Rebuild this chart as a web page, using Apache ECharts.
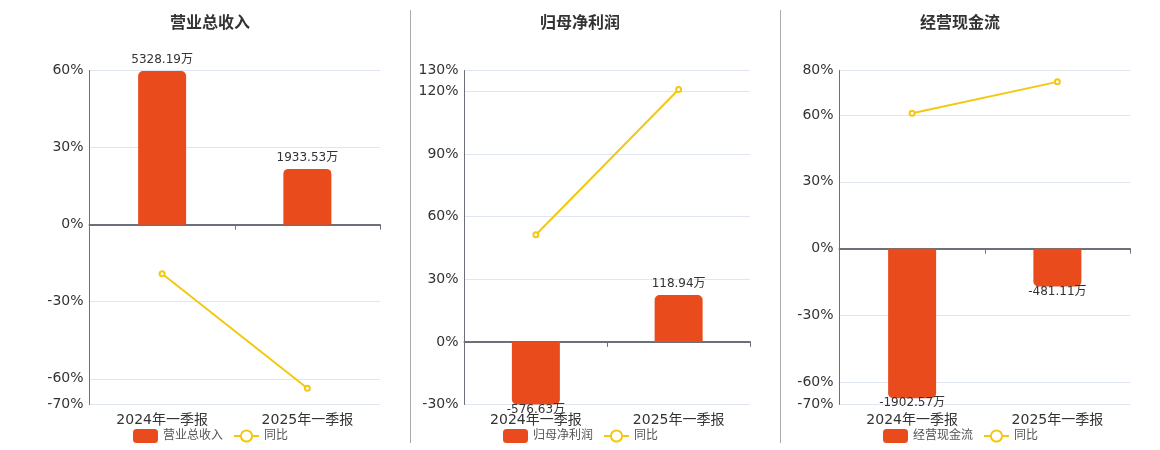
<!DOCTYPE html>
<html>
<head>
<meta charset="utf-8">
<script type="text/javascript" src="https://cdn.jsdelivr.net/npm/echarts@6/dist/echarts.min.js"></script>
<style>
  html, body { margin: 0; padding: 0; background: #fff; }
  #container { width: 1160px; height: 450px; }
</style>
</head>
<body>
<div id="container"></div>
<script type="text/javascript">
// data
var categories = ['2024年一季报', '2025年一季报'];
var titles = ['营业总收入', '归母净利润', '经营现金流'];

var revenue = [5328.19, 1933.53];
var revenueYoy = [-19.1, -63.7];
var profit = [-576.63, 118.94];
var profitYoy = [51.3, 120.9];
var cashflow = [-1902.57, -481.11];
var cashflowYoy = [60.8, 74.9];

// percent axis range per chart
var pctRange = [[-70, 60], [-30, 130], [-70, 80]];
// bar amount (万) per 1% on the hidden bar axis
var barPerPct = [89.1, 5.29, 28.3];

var barValues = [revenue, profit, cashflow];
var yoyValues = [revenueYoy, profitYoy, cashflowYoy];

var FONT = "'DejaVu Sans', 'Noto Sans CJK SC', sans-serif";
var BAR_COLOR = '#E94B1D';
var LINE_COLOR = '#F2C811';
var AXIS_COLOR = '#6E7079';

// layout of the three panels
var panels = [
    { left: 89.5, right: 780, center: 210, legendLeft: 128 },
    { left: 464.5, right: 410, center: 580, legendLeft: 498 },
    { left: 839.5, right: 30, center: 960, legendLeft: 878 }
];

var option = {
    animation: false,
    textStyle: { fontFamily: FONT },
    grid: [], xAxis: [], yAxis: [], series: [], legend: [], graphic: []
};

panels.forEach(function (p, i) {
    option.grid.push({ left: p.left, right: p.right, top: 70.5, bottom: 45.5, containLabel: false });

    // label axis at the bottom
    option.xAxis.push({
        type: 'category', gridIndex: i, data: categories, position: 'bottom',
        axisLine: { show: false, onZero: false },
        axisTick: { show: false },
        axisLabel: { color: '#333', fontSize: 14, margin: 9, fontFamily: FONT }
    });
    // zero line with ticks
    option.xAxis.push({
        type: 'category', gridIndex: i, data: categories, position: 'bottom',
        axisLine: { show: true, onZero: true, lineStyle: { color: AXIS_COLOR, width: 2 } },
        axisTick: { show: true, length: 5, lineStyle: { color: AXIS_COLOR } },
        axisLabel: { show: false }
    });

    var r = pctRange[i];
    option.yAxis.push({
        type: 'value', gridIndex: i, min: r[0], max: r[1], splitNumber: 5,
        axisLine: { show: true, lineStyle: { color: AXIS_COLOR, width: 1 } },
        axisTick: { show: false },
        axisLabel: {
            color: '#333', fontSize: 14, margin: 6, padding: [3, 0, 0, 0],
            formatter: '{value}%', fontFamily: FONT
        },
        splitLine: { show: true, lineStyle: { color: '#E0E6F1' } }
    });
    option.yAxis.push({
        type: 'value', gridIndex: i, position: 'right', show: false,
        min: r[0] * barPerPct[i], max: r[1] * barPerPct[i],
        splitLine: { show: false }
    });

    var barData = barValues[i].map(function (v) {
        var neg = v < 0;
        return {
            value: v,
            itemStyle: { borderRadius: neg ? [0, 0, 5, 5] : [5, 5, 0, 0] },
            label: { position: neg ? 'bottom' : 'top', distance: neg ? -1 : 5 }
        };
    });

    option.series.push({
        name: titles[i], type: 'bar',
        xAxisIndex: i * 2, yAxisIndex: i * 2 + 1,
        data: barData, barWidth: 48, clip: true,
        itemStyle: { color: BAR_COLOR },
        label: {
            show: true, color: '#333', fontSize: 12, fontFamily: FONT,
            formatter: function (d) { return d.value.toFixed(2) + '万'; }
        },
        z: 2
    });
    option.series.push({
        name: '同比', type: 'line',
        xAxisIndex: i * 2, yAxisIndex: i * 2,
        data: yoyValues[i],
        symbol: 'emptyCircle', symbolSize: 5,
        itemStyle: { color: LINE_COLOR, borderWidth: 1.5 },
        lineStyle: { color: LINE_COLOR, width: 2 },
        z: 3
    });

    option.legend.push({
        left: p.legendLeft, top: 424,
        itemWidth: 25, itemHeight: 14, itemGap: 10,
        textStyle: { color: '#555', fontSize: 12, fontFamily: FONT },
        data: [
            { name: titles[i], icon: 'roundRect' },
            { name: '同比' }
        ]
    });

    option.graphic.push({
        type: 'text', x: p.center, y: 23.5,
        style: {
            text: titles[i], fill: '#333', font: 'bold 16px ' + FONT,
            textAlign: 'center', textVerticalAlign: 'middle'
        }
    });
});

// panel dividers
[410.5, 780.5].forEach(function (x) {
    option.graphic.push({
        type: 'line', shape: { x1: x, y1: 10, x2: x, y2: 443 },
        style: { stroke: '#aaa', lineWidth: 1 }
    });
});

var myChart = echarts.init(document.getElementById('container'), null, { renderer: 'canvas' });
myChart.setOption(option);
</script>
</body>
</html>
